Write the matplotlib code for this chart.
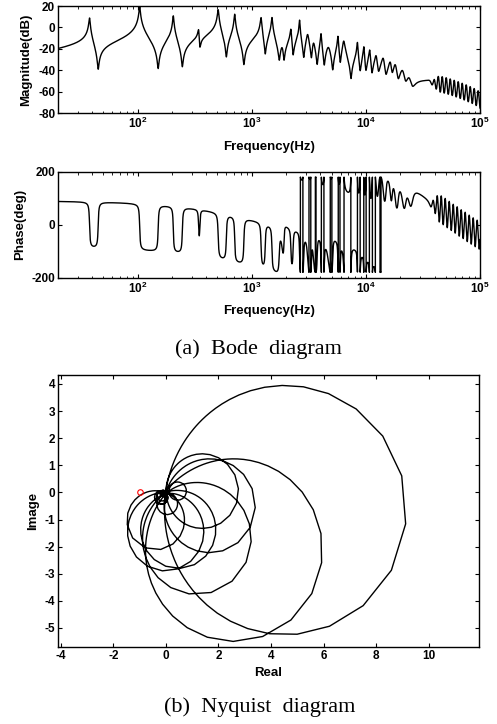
import numpy as np
import matplotlib
matplotlib.use("Agg")
import matplotlib.pyplot as plt
from matplotlib.ticker import FixedLocator, LogLocator, NullFormatter

plt.rcParams['font.family'] = ['Liberation Sans', 'DejaVu Sans']
plt.rcParams['font.weight'] = 'bold'
plt.rcParams['axes.unicode_minus'] = False
plt.rcParams['mathtext.fontset'] = 'custom'
plt.rcParams['mathtext.rm'] = 'Liberation Sans:bold'
plt.rcParams['mathtext.it'] = 'Liberation Sans:bold'
plt.rcParams['mathtext.bf'] = 'Liberation Sans:bold'

# resonances (Hz), paired with the notch next to them
res_hz = [37.8, 104, 205, 342, 507, 708, 1205, 1502, 1849, 2200, 2622, 3084,
          3470, 4040, 4690, 5690, 6390, 8430, 9600, 10800, 12300, 14200, 16400,
          18100, 21000, 24000,
          37000, 39330, 40100, 42630, 43500, 46240, 47100, 50070, 51100, 54320,
          55400, 58890, 60000, 63780, 65100, 69200, 70500, 74940, 76500, 81320,
          82900, 88120, 89800, 95460, 97400, 103540]
res_zeta = [0.010, 0.010, 0.009, 0.010, 0.0105, 0.009, 0.010, 0.0095, 0.030, 0.010,
            0.007, 0.020, 0.022, 0.008, 0.039, 0.008, 0.018, 0.008, 0.008, 0.011,
            0.019, 0.024, 0.023, 0.028, 0.040, 0.050,
            0.040, 0.030, 0.022, 0.018, 0.015, 0.015, 0.015, 0.015, 0.015, 0.015,
            0.015, 0.015, 0.015, 0.015, 0.015, 0.015, 0.015, 0.015, 0.015, 0.015,
            0.015, 0.015, 0.015, 0.015, 0.015, 0.015]
anti_hz = [45, 151, 246, 350, 598, 852, 1311, 1740, 1915, 2300, 2850, 3330,
           3740, 4315, 5120, 5960, 7400, 8900, 10000, 11300, 12900, 15000, 17000,
           19200, 22300, 25500,
           37780, 38550, 40940, 41780, 44410, 45330, 48090, 49080, 52170, 53250,
           56560, 57730, 61260, 62520, 66470, 67830, 71980, 73460, 78110, 79710,
           84640, 86380, 91690, 93570, 99450, 101490]
anti_zeta = [0.010, 0.010, 0.010, 0.010, 0.010, 0.010, 0.010, 0.012, 0.010, 0.010,
             0.010, 0.010, 0.010, 0.010, 0.010, 0.010, 0.010, 0.012, 0.012, 0.012,
             0.019, 0.019, 0.019, 0.023, 0.030, 0.040,
             0.040, 0.030, 0.022, 0.018, 0.015, 0.015, 0.015, 0.015, 0.015, 0.015,
             0.015, 0.015, 0.015, 0.015, 0.015, 0.015, 0.015, 0.015, 0.015, 0.015,
             0.015, 0.015, 0.015, 0.015, 0.015, 0.015]
gain = 7.2e-4                                # -20 dB at 20 Hz
lowpass_hz = [700, 10000, 35000, 90000]      # roll-off of the trend
allpass_hz = [24000]                         # extra phase lag
delay_s = 1.3e-6
critical_point = [-1, 0]

mag_ticks = [20, 0, -20, -40, -60, -80]
phase_ticks = [200, 0, -200]
real_ticks = [-4, -2, 0, 2, 4, 6, 8, 10]
imag_ticks = [4, 3, 2, 1, 0, -1, -2, -3, -4, -5]


def frf(f):
    s = 2j * np.pi * f
    h = gain * s
    for fp, zp, fz, zz in zip(res_hz, res_zeta, anti_hz, anti_zeta):
        wp = 2 * np.pi * fp
        wz = 2 * np.pi * fz
        h = h * (s**2 + 2*zz*wz*s + wz**2) / wz**2 * wp**2 / (s**2 + 2*zp*wp*s + wp**2)
    for fc in lowpass_hz:
        h = h / (1 + s / (2*np.pi*fc))
    for fa in allpass_hz:
        h = h * (1 - s / (2*np.pi*fa)) / (1 + s / (2*np.pi*fa))
    return h * np.exp(-s * delay_s)


f_bode = np.logspace(np.log10(20), 5, 30000)
h_bode = frf(f_bode)
f_nyq = np.logspace(np.log10(20), 5, 4300)
h_nyq = frf(f_nyq)

TICK = 8.5
LABEL = 9.5


def style_ax(ax):
    ax.tick_params(direction='in', top=True, right=True, labelsize=TICK,
                   length=3, width=0.8, pad=2)
    ax.tick_params(which='minor', direction='in', top=True, right=True,
                   length=1.8, width=0.6)
    for sp in ax.spines.values():
        sp.set_linewidth(1.0)


fig = plt.figure(figsize=(4.97, 7.24), dpi=100)

ax1 = fig.add_axes([0.1167, 0.8439, 0.849, 0.1478])
ax1.semilogx(f_bode, 20*np.log10(np.abs(h_bode)), color='k', lw=1.0)
ax1.set_xlim(20, 1e5)
ax1.set_ylim(-80, 20)
ax1.yaxis.set_major_locator(FixedLocator(mag_ticks))
ax1.set_ylabel('Magnitude(dB)', fontsize=LABEL, fontweight='bold', labelpad=4)
ax1.set_xlabel('Frequency(Hz)', fontsize=LABEL, fontweight='bold', labelpad=7)

ax2 = fig.add_axes([0.1167, 0.6164, 0.849, 0.1464])
ax2.semilogx(f_bode, np.degrees(np.angle(h_bode)), color='k', lw=1.0)
ax2.set_xlim(20, 1e5)
ax2.set_ylim(-200, 200)
ax2.yaxis.set_major_locator(FixedLocator(phase_ticks))
ax2.set_ylabel('Phase(deg)', fontsize=LABEL, fontweight='bold', labelpad=4)
ax2.set_xlabel('Frequency(Hz)', fontsize=LABEL, fontweight='bold', labelpad=7)

for ax in (ax1, ax2):
    ax.xaxis.set_major_locator(LogLocator(base=10, numticks=10))
    ax.xaxis.set_minor_locator(LogLocator(base=10, subs=np.arange(2, 10), numticks=20))
    ax.xaxis.set_minor_formatter(NullFormatter())
    style_ax(ax)

fig.text(0.52, 0.518, '(a)  Bode  diagram', ha='center', va='center',
         family='Liberation Serif', fontweight='normal', fontsize=16)

ax3 = fig.add_axes([0.1167, 0.1064, 0.847, 0.3757])
ax3.plot(h_nyq.real, h_nyq.imag, color='k', lw=1.0)
ax3.plot(critical_point[0], critical_point[1], 'o', mfc='none', mec='red',
         ms=4, mew=0.8)
ax3.set_xlim(-4.1, 11.9)
ax3.set_ylim(-5.7, 4.33)
ax3.xaxis.set_major_locator(FixedLocator(real_ticks))
ax3.yaxis.set_major_locator(FixedLocator(imag_ticks))
ax3.set_xlabel('Real', fontsize=LABEL, fontweight='bold', labelpad=4)
ax3.set_ylabel('Image', fontsize=LABEL, fontweight='bold', labelpad=4)
style_ax(ax3)

fig.text(0.522, 0.0235, '(b)  Nyquist  diagram', ha='center', va='center',
         family='Liberation Serif', fontweight='normal', fontsize=16)

fig.savefig('out.png', dpi=100)
